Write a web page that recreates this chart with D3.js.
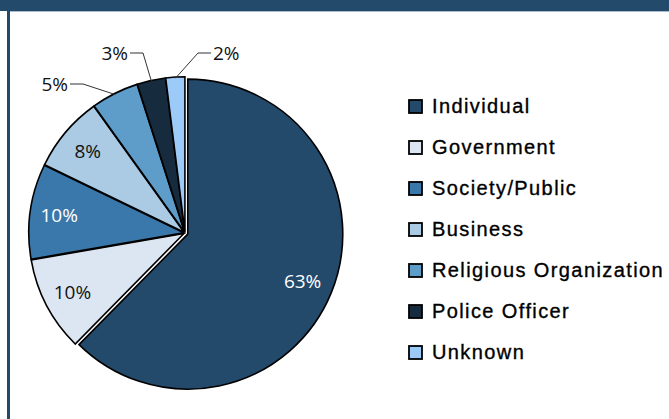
<!DOCTYPE html>
<html>
<head>
<meta charset="utf-8">
<script src="https://cdn.jsdelivr.net/npm/d3@7"></script>
<style>
  html, body { margin: 0; padding: 0; background: #fff; }
  svg { display: block; }
</style>
</head>
<body>
<svg id="chart" width="669" height="419"></svg>
<script>
// Share of cases by type of perpetrator
const categories = ["Individual", "Government", "Society/Public", "Business",
                    "Religious Organization", "Police Officer", "Unknown"];
const shares = [63, 10, 10, 8, 5, 3, 2];
const sliceColors = ["#244a6b", "#dce6f2", "#3a77aa", "#aacbe3", "#5e9dca", "#172b3e", "#9dcbf9"];
const labelColors = ["#ffffff", "#111111", "#ffffff", "#111111", "#111111", "#111111", "#111111"];

// outside labels: elbow point of the leader relative to the pie centre, and side of the text
const outsideLabels = {
  4: { elbow: [-102, -149], side: "left" },
  5: { elbow: [-42, -180], side: "left" },
  6: { elbow: [13, -180], side: "right" }
};

const W = 669, H = 419;
const svg = d3.select("#chart");

// frame: heading bar and left rule
svg.append("rect").attr("x", 0).attr("y", 0).attr("width", W).attr("height", 11).attr("fill", "#234a6b");
svg.append("line").attr("x1", 10).attr("x2", W).attr("y1", 11.5).attr("y2", 11.5)
  .attr("stroke", "#a9bccd").attr("stroke-width", 1);
svg.append("rect").attr("x", 7).attr("y", 0).attr("width", 3).attr("height", H).attr("fill", "#234a6b");

const cx = 185, cy = 233, r = 155;
const g = svg.append("g").attr("transform", `translate(${cx},${cy})`);

const pie = d3.pie().sort(null).value(d => d)(shares);
const arc = d3.arc().innerRadius(0).outerRadius(r);
const labelArc = d3.arc().innerRadius(r * 0.82).outerRadius(r * 0.82);

const mid = d => (d.startAngle + d.endAngle) / 2;
const explode = i => (i === 0 ? 3 : 1.2);

g.selectAll("path.slice")
  .data(pie)
  .join("path")
  .attr("class", "slice")
  .attr("d", arc)
  .attr("transform", (d, i) => {
    const a = mid(d), e = explode(i);
    return `translate(${e * Math.sin(a)},${-e * Math.cos(a)})`;
  })
  .attr("fill", (d, i) => sliceColors[i])
  .attr("stroke", "#000")
  .attr("stroke-width", 1.6)
  .attr("stroke-linejoin", "miter");

const fmt = v => v + "%";
const labelFont = "'Open Sans', sans-serif";
const labelSize = 19;

// labels inside the larger slices
g.selectAll("text.inside")
  .data(pie.filter((d, i) => !outsideLabels[i]))
  .join("text")
  .attr("class", "inside")
  .attr("transform", d => `translate(${labelArc.centroid(d)})`)
  .attr("text-anchor", "middle")
  .attr("dy", "0.36em")
  .attr("font-family", labelFont)
  .attr("font-size", labelSize)
  .attr("fill", d => labelColors[d.index])
  .text(d => fmt(d.data));

// leader lines and labels for the small slices
pie.forEach((d, i) => {
  const o = outsideLabels[i];
  if (!o) return;
  const a = mid(d);
  const p0 = [r * Math.sin(a), -r * Math.cos(a)];
  const p1 = o.elbow;
  const dir = o.side === "left" ? -1 : 1;
  const p2 = [p1[0] + dir * 13, p1[1]];
  g.append("polyline")
    .attr("points", [p0, p1, p2].map(p => p.join(",")).join(" "))
    .attr("fill", "none")
    .attr("stroke", "#333")
    .attr("stroke-width", 1);
  g.append("text")
    .attr("x", p2[0] + dir * 2)
    .attr("y", p2[1])
    .attr("dy", "0.36em")
    .attr("text-anchor", o.side === "left" ? "end" : "start")
    .attr("font-family", labelFont)
    .attr("font-size", labelSize)
    .attr("fill", "#111")
    .text(fmt(d.data));
});

// legend
const legendY = d3.scalePoint().domain(categories).range([106, 352]);
const legend = svg.append("g");
const items = legend.selectAll("g.item")
  .data(categories)
  .join("g")
  .attr("class", "item")
  .attr("transform", d => `translate(409,${legendY(d)})`);
items.append("rect")
  .attr("x", 0).attr("y", -6).attr("width", 13).attr("height", 13)
  .attr("fill", (d, i) => sliceColors[i])
  .attr("stroke", "#000").attr("stroke-width", 1.8);
items.append("text")
  .attr("x", 23)
  .attr("y", 0)
  .attr("dy", "0.36em")
  .attr("font-family", "'Liberation Sans', Arial, sans-serif")
  .attr("font-size", 20)
  .attr("letter-spacing", 1.4)
  .attr("fill", "#000")
  .attr("stroke", "#000")
  .attr("stroke-width", 0.35)
  .text(d => d);
</script>
</body>
</html>
